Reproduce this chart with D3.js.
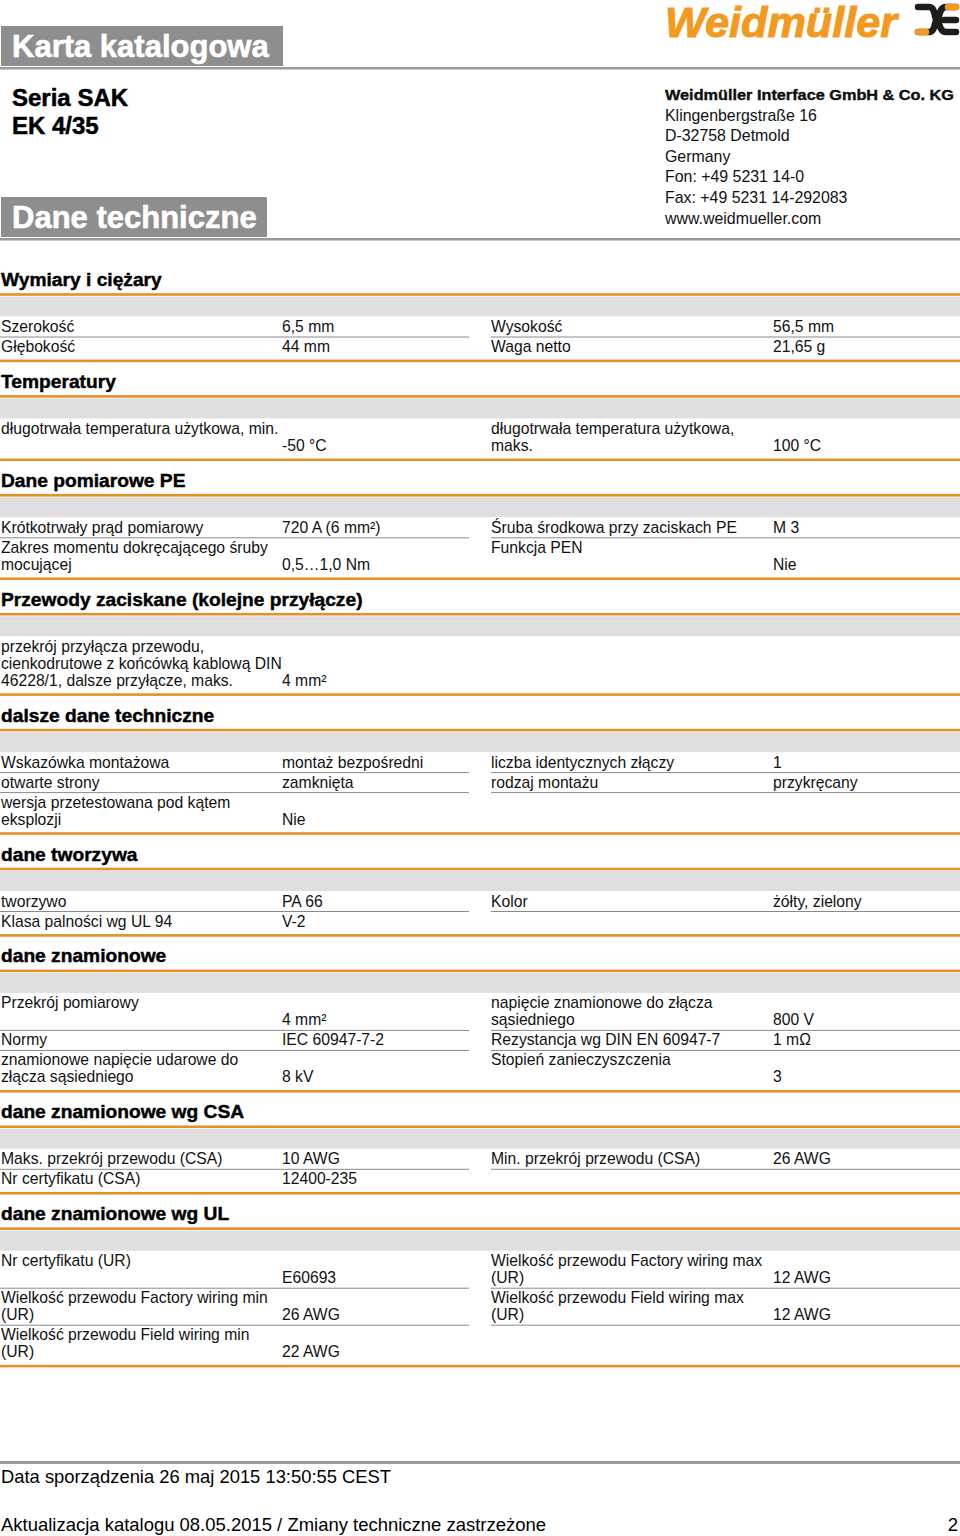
<!DOCTYPE html>
<html>
<head>
<meta charset="utf-8">
<script src="https://cdn.jsdelivr.net/npm/d3@7/dist/d3.min.js"></script>
<style>
	body { margin: 0; background: #fff; }
	svg { display: block; }
	.body-text { font-family: "Liberation Sans", Arial, sans-serif; font-size: 15.7px; fill: #111; }
	.heading { font-family: "Liberation Sans", Arial, sans-serif; font-size: 19.2px; font-weight: bold; fill: #000; stroke: #000; stroke-width: 0.45px; }
	.foot { font-family: "Liberation Sans Narrow", "Liberation Sans", sans-serif; font-size: 18.5px; fill: #000; }
</style>
</head>
<body>
<div id="page"></div>
<script>

var sectionTitles = ["Wymiary i ciężary", "Temperatury", "Dane pomiarowe PE",
	"Przewody zaciskane (kolejne przyłącze)", "dalsze dane techniczne", "dane tworzywa",
	"dane znamionowe", "dane znamionowe wg CSA", "dane znamionowe wg UL"];

// each row: left label, left value, right label, right value
var wymiaryRows = [
	["Szerokość", "6,5 mm", "Wysokość", "56,5 mm"],
	["Głębokość", "44 mm", "Waga netto", "21,65 g"]
];
var temperaturyRows = [
	["długotrwała temperatura użytkowa, min.", "-50 °C", "długotrwała temperatura użytkowa,\nmaks.", "100 °C"]
];
var pomiaroweRows = [
	["Krótkotrwały prąd pomiarowy", "720 A (6 mm²)", "Śruba środkowa przy zaciskach PE", "M 3"],
	["Zakres momentu dokręcającego śruby\nmocującej", "0,5…1,0 Nm", "Funkcja PEN", "Nie"]
];
var przewodyRows = [
	["przekrój przyłącza przewodu,\ncienkodrutowe z końcówką kablową DIN\n46228/1, dalsze przyłącze, maks.", "4 mm²", "", ""]
];
var dalszeRows = [
	["Wskazówka montażowa", "montaż bezpośredni", "liczba identycznych złączy", "1"],
	["otwarte strony", "zamknięta", "rodzaj montażu", "przykręcany"],
	["wersja przetestowana pod kątem\neksplozji", "Nie", "", ""]
];
var tworzywaRows = [
	["tworzywo", "PA 66", "Kolor", "żółty, zielony"],
	["Klasa palności wg UL 94", "V-2", "", ""]
];
var znamionoweRows = [
	["Przekrój pomiarowy", "4 mm²", "napięcie znamionowe do złącza\nsąsiedniego", "800 V"],
	["Normy", "IEC 60947-7-2", "Rezystancja wg DIN EN 60947-7", "1 mΩ"],
	["znamionowe napięcie udarowe do\nzłącza sąsiedniego", "8 kV", "Stopień zanieczyszczenia", "3"]
];
var csaRows = [
	["Maks. przekrój przewodu (CSA)", "10 AWG", "Min. przekrój przewodu (CSA)", "26 AWG"],
	["Nr certyfikatu (CSA)", "12400-235", "", ""]
];
var ulRows = [
	["Nr certyfikatu (UR)", "E60693", "Wielkość przewodu Factory wiring max\n(UR)", "12 AWG"],
	["Wielkość przewodu Factory wiring min\n(UR)", "26 AWG", "Wielkość przewodu Field wiring max\n(UR)", "12 AWG"],
	["Wielkość przewodu Field wiring min\n(UR)", "22 AWG", "", ""]
];

var companyLines = ["Weidmüller Interface GmbH & Co. KG", "Klingenbergstraße 16", "D-32758 Detmold",
	"Germany", "Fon: +49 5231 14-0", "Fax: +49 5231 14-292083", "www.weidmueller.com"];
var seriesLines = ["Seria SAK", "EK 4/35"];
var footLines = ["Data sporządzenia 26 maj 2015 13:50:55 CEST",
	"Aktualizacja katalogu 08.05.2015 / Zmiany techniczne zastrzeżone"];
var pageNo = "2";

var sectionRows = [wymiaryRows, temperaturyRows, pomiaroweRows, przewodyRows, dalszeRows,
	tworzywaRows, znamionoweRows, csaRows, ulRows];

var width = 960, height = 1536;
var orange = "#e2912b", greyBox = "#8e8e8e", greyLine = "#9a9a9a", band = "#dfdfdf";

var svg = d3.select("#page").append("svg")
	.attr("width", width)
	.attr("height", height);

// column positions: label left, value left, label right, value right
var colX = d3.scaleOrdinal().domain([0, 1, 2, 3]).range([1, 282, 491, 773]);
var sepX = d3.scaleOrdinal().domain([0, 1]).range([[0, 469], [491, 960]]);

draw_header();
draw_sections();
draw_footer();

function draw_header() {
	var boxes = [{ t: "Karta katalogowa", y: 26, w: 282 }, { t: "Dane techniczne", y: 197, w: 266 }];
	boxes.forEach(function(b) {
		svg.append("rect")
			.attr("x", 1).attr("y", b.y)
			.attr("width", b.w).attr("height", 40)
			.attr("fill", greyBox);
		svg.append("text")
			.attr("x", 12).attr("y", b.y + 31)
			.attr("font-family", "Liberation Sans, Arial, sans-serif")
			.attr("font-weight", "bold")
			.attr("font-size", "31px")
			.attr("fill", "#fff")
			.attr("stroke", "#fff")
			.attr("stroke-width", 0.6)
			.text(b.t);
		svg.append("rect")
			.attr("x", 0).attr("y", b.y + 41)
			.attr("width", width).attr("height", 2.5)
			.attr("fill", greyLine);
	});

	svg.selectAll(".series")
		.data(seriesLines)
		.enter()
		.append("text")
		.attr("class", "series")
		.attr("x", 12)
		.attr("y", function(d, i) { return 106 + i * 28; })
		.attr("font-family", "Liberation Sans, Arial, sans-serif")
		.attr("font-weight", "bold")
		.attr("font-size", "24px")
		.attr("fill", "#000")
		.attr("stroke", "#000")
		.attr("stroke-width", 0.5)
		.text(function(d) { return d; });

	svg.selectAll(".company")
		.data(companyLines)
		.enter()
		.append("text")
		.attr("class", "company body-text")
		.attr("x", 665)
		.attr("y", function(d, i) { return 100 + i * 20.6; })
		.attr("font-weight", function(d, i) { return i == 0 ? "bold" : null; })
		.attr("stroke", function(d, i) { return i == 0 ? "#000" : null; })
		.attr("stroke-width", 0.35)
		.attr("textLength", function(d, i) { return i == 0 ? 289 : null; })
		.attr("lengthAdjust", "spacingAndGlyphs")
		.style("font-size", function(d, i) { return i == 0 ? "15px" : "15.9px"; })
		.text(function(d) { return d; });

	// logo
	svg.append("text")
		.attr("x", 665).attr("y", 37)
		.attr("font-family", "Liberation Sans, Arial, sans-serif")
		.attr("font-weight", "bold")
		.attr("font-style", "italic")
		.attr("font-size", "42px")
		.attr("textLength", 232)
		.attr("lengthAdjust", "spacingAndGlyphs")
		.attr("fill", "#f29a1f")
		.attr("stroke", "#f29a1f")
		.attr("stroke-width", 1)
		.text("Weidmüller");

	var logo = svg.append("g").attr("fill", "none").attr("stroke-width", 6.5).attr("stroke-linecap", "round");
	logo.append("path")
		.attr("d", "M918,7 L929,7 C936,7 934,20 937,20 C940,20 938,32 946,32 L956,32")
		.attr("stroke", "#1d1d1b");
	logo.append("path")
		.attr("d", "M918,32 L929,32 C936,32 934,20 937,20 C940,20 938,7 946,7 L956,7")
		.attr("stroke", "#1d1d1b");
	logo.append("path")
		.attr("d", "M944,20 L956,20")
		.attr("stroke", "#1d1d1b");
	logo.append("path")
		.attr("d", "M948,7 L956,7")
		.attr("stroke", "#f29a1f");
	logo.append("path")
		.attr("d", "M918,32 L926,32")
		.attr("stroke", "#f29a1f");
}

function lineCount(s) { return s ? s.split("\n").length : 0; }

function orange_line(y) {
	svg.append("rect")
		.attr("x", 0).attr("y", y - 1.3)
		.attr("width", width).attr("height", 2.6)
		.attr("fill", orange);
}

function draw_sections() {
	var orangeY = 294.5;
	var firstLine = 17, rowBase = 20, textTop = 15.5;

	sectionTitles.forEach(function(title, s) {
		var rows = sectionRows[s];

		svg.append("text")
			.attr("class", "heading")
			.attr("x", 1).attr("y", orangeY - 8.5)
			.text(title);
		orange_line(orangeY);
		svg.append("rect")
			.attr("x", 0).attr("y", orangeY + 2)
			.attr("width", width).attr("height", 20)
			.attr("fill", band);

		var top = orangeY + 22;
		rows.forEach(function(r, ri) {
			var n = d3.max([lineCount(r[0]), lineCount(r[2]), 1]);
			var h = rowBase + (n - 1) * firstLine;
			var g = svg.append("g").attr("transform", "translate(0," + top + ")");

			[0, 2].forEach(function(c) {
				if (!r[c]) return;
				var label = g.append("text").attr("class", "body-text");
				label.selectAll("tspan")
					.data(r[c].split("\n"))
					.enter()
					.append("tspan")
					.attr("x", colX(c))
					.attr("y", function(d, i) { return textTop + i * firstLine; })
					.text(function(d) { return d; });
				g.append("text")
					.attr("class", "body-text")
					.attr("x", colX(c + 1))
					.attr("y", textTop + (n - 1) * firstLine)
					.text(r[c + 1]);
				if (ri < rows.length - 1) {
					var xs = sepX(c / 2);
					g.append("line")
						.attr("x1", xs[0]).attr("x2", xs[1])
						.attr("y1", h + 0.5).attr("y2", h + 0.5)
						.attr("stroke", "#8a8a8a")
						.attr("stroke-width", 1);
				}
			});
			top += h;
		});

		var endY = top + 4.4;
		orange_line(endY);
		orangeY = endY + 35.5;
	});
}

function draw_footer() {
	svg.append("rect")
		.attr("x", 0).attr("y", 1461)
		.attr("width", width).attr("height", 3)
		.attr("fill", greyLine);
	svg.append("text")
		.attr("class", "foot")
		.attr("x", 1).attr("y", 1483)
		.attr("textLength", 390)
		.attr("lengthAdjust", "spacingAndGlyphs")
		.text(footLines[0]);
	svg.append("text")
		.attr("class", "foot")
		.attr("x", 1).attr("y", 1531)
		.attr("textLength", 545)
		.attr("lengthAdjust", "spacingAndGlyphs")
		.text(footLines[1]);
	svg.append("text")
		.attr("class", "foot")
		.attr("x", 958).attr("y", 1531)
		.attr("text-anchor", "end")
		.text(pageNo);
}

</script>
</body>
</html>
